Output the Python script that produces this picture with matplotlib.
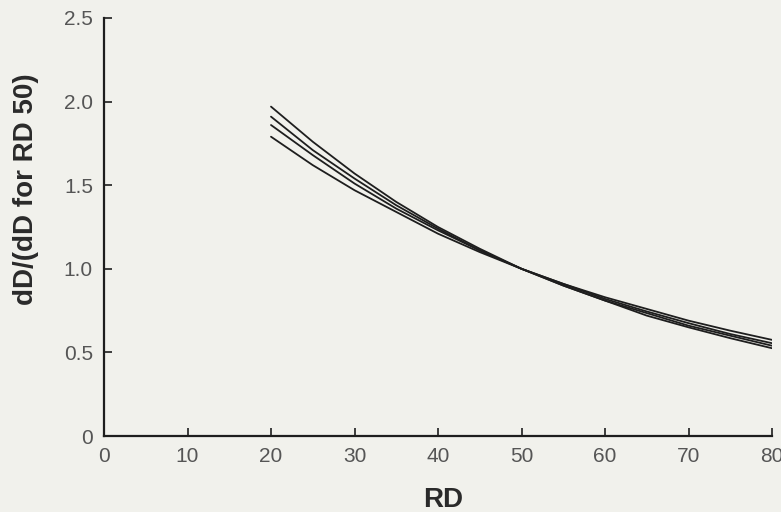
import matplotlib
matplotlib.use("Agg")
import matplotlib.pyplot as plt

# Relative dD normalised to RD 50, for four curves
rd = [20, 25, 30, 35, 40, 45, 50, 55, 60, 65, 70, 75, 80]
curve_a = [1.97, 1.76, 1.57, 1.40, 1.25, 1.12, 1.00, 0.90, 0.81, 0.72, 0.65, 0.585, 0.525]
curve_b = [1.91, 1.71, 1.54, 1.38, 1.24, 1.11, 1.00, 0.90, 0.81, 0.735, 0.66, 0.60, 0.54]
curve_c = [1.86, 1.68, 1.51, 1.36, 1.23, 1.11, 1.00, 0.91, 0.82, 0.745, 0.675, 0.61, 0.555]
curve_d = [1.79, 1.62, 1.47, 1.34, 1.21, 1.10, 1.00, 0.91, 0.83, 0.76, 0.69, 0.63, 0.575]

x_ticks = [0, 10, 20, 30, 40, 50, 60, 70, 80]
y_ticks = [0, 0.5, 1.0, 1.5, 2.0, 2.5]
y_tick_labels = ["0", "0.5", "1.0", "1.5", "2.0", "2.5"]

bg = "#f1f1ec"
ink = "#1e1e1e"
label_grey = "#555555"

plt.rcParams["font.family"] = ["Liberation Sans", "DejaVu Sans"]

fig = plt.figure(figsize=(7.81, 5.12), dpi=100, facecolor=bg)
ax = fig.add_axes([104 / 781, 1 - 436 / 512, 668 / 781, 418 / 512], facecolor=bg)

for ys in (curve_a, curve_b, curve_c, curve_d):
    ax.plot(rd, ys, color=ink, lw=1.3, solid_capstyle="round")

ax.set_xlim(0, 80)
ax.set_ylim(0, 2.5)
ax.set_xticks(x_ticks)
ax.set_yticks(y_ticks)
ax.set_yticklabels(y_tick_labels)

for side in ("top", "right"):
    ax.spines[side].set_visible(False)
for side in ("left", "bottom"):
    ax.spines[side].set_linewidth(1.6)
    ax.spines[side].set_color(ink)

ax.tick_params(direction="in", length=6, width=1.2, color=ink,
               labelsize=15, labelcolor=label_grey, pad=8)

ax.set_xlabel("RD", fontsize=20, fontweight="bold", color="#2a2a2a")
ax.set_ylabel("dD/(dD for RD 50)", fontsize=20, fontweight="bold", color="#2a2a2a")
ax.xaxis.set_label_coords(0.507, -0.122)
ax.yaxis.set_label_coords(-0.098, 0.59)

fig.savefig("out.png", dpi=100, facecolor=bg)
